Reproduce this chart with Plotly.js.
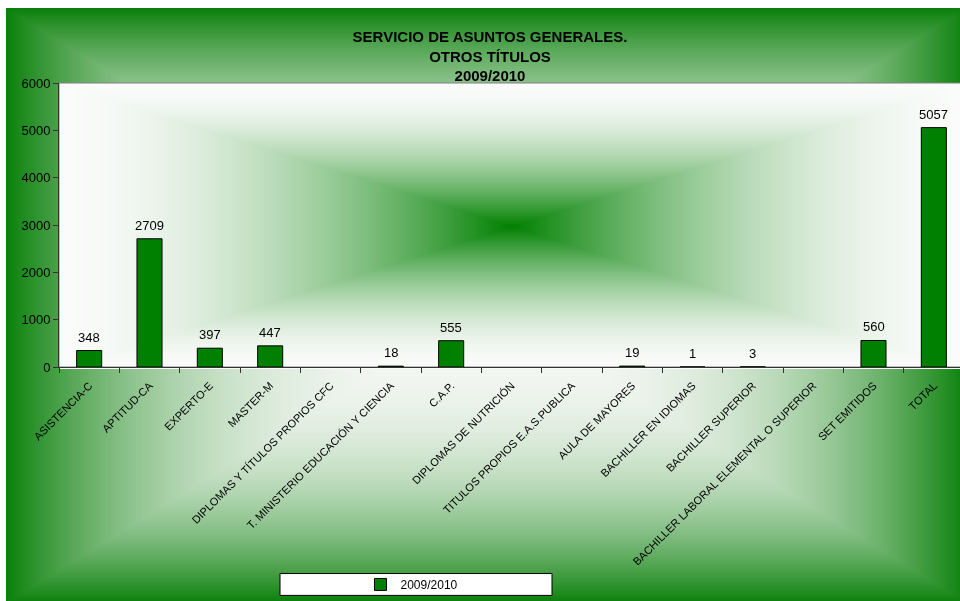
<!DOCTYPE html>
<html>
<head>
<meta charset="utf-8">
<script src="https://cdn.plot.ly/plotly-3.0.1.min.js"></script>
<style>
html,body{margin:0;padding:0;overflow:hidden;background:#fff;}
#wrap{position:relative;width:960px;height:601px;overflow:hidden;}
#bg{position:absolute;left:0;top:0;}
#chart{position:absolute;left:0;top:0;}
</style>
</head>
<body>
<div id="wrap">
<canvas id="bg" width="966" height="601"></canvas>
<div id="chart"></div>
</div>
<script>
// ---- data ----
const categories = [
  "ASISTENCIA-C", "APTITUD-CA", "EXPERTO-E", "MASTER-M",
  "DIPLOMAS Y TÍTULOS PROPIOS CFC", "T. MINISTERIO EDUCACIÓN Y CIENCIA",
  "C.A.P.", "DIPLOMAS DE NUTRICIÓN", "TITULOS PROPIOS E.A.S.PUBLICA",
  "AULA DE MAYORES", "BACHILLER EN IDIOMAS", "BACHILLER SUPERIOR",
  "BACHILLER LABORAL ELEMENTAL O SUPERIOR", "SET EMITIDOS", "TOTAL"
];
const values2009 = [348, 2709, 397, 447, null, 18, 555, null, null, 19, 1, 3, null, 560, 5057];
const seriesName = "2009/2010";
const yTicks = [0, 1000, 2000, 3000, 4000, 5000, 6000];

// ---- geometry ----
const W = 966, H = 601;
const M = {l: 59, r: 2, t: 83, b: 232};
const PX0 = M.l, PX1 = W - M.r, PY0 = M.t, PY1 = H - M.b;

// ---- background gradients ----
(function drawBg(){
  const c = document.getElementById('bg');
  const ctx = c.getContext('2d');
  const img = ctx.createImageData(W, H);
  const d = img.data;
  const ocx = 486, ocy = 305, ohx = 480, ohy = 297;
  const pcx = (PX0 + PX1) / 2, pcy = (PY0 + PY1) / 2, phx = (PX1 - PX0) / 2, phy = (PY1 - PY0) / 2;
  for (let y = 0; y < H; y++) {
    for (let x = 0; x < W; x++) {
      let r, g, b;
      if (x < 6 || y < 8) { r = 255; g = 255; b = 255; }
      else if (x >= PX0 && x < PX1 && y >= PY0 && y < PY1) {
        let f = Math.max(Math.abs(x - pcx) / phx, Math.abs(y - pcy) / phy);
        f = Math.min(1, f);
        const t = Math.pow(1 - f, 1.8);
        r = 250 * (1 - t) + 0 * t;
        g = 251 * (1 - t) + 128 * t;
        b = 250 * (1 - t) + 0 * t;
      } else {
        let f = Math.max(Math.abs(x - ocx) / ohx, Math.abs(y - ocy) / ohy);
        f = Math.min(1, f);
        const t = Math.pow(f, 2.7);
        r = 246 * (1 - t) + 10 * t;
        g = 248 * (1 - t) + 128 * t;
        b = 245 * (1 - t) + 10 * t;
      }
      const i = (y * W + x) * 4;
      d[i] = r; d[i + 1] = g; d[i + 2] = b; d[i + 3] = 255;
    }
  }
  ctx.putImageData(img, 0, 0);
})();

// ---- chart ----
const font = "Arial, 'Liberation Sans', sans-serif";
const trace = {
  type: 'bar',
  x: categories,
  y: values2009,
  name: seriesName,
  marker: {color: '#008000', line: {color: '#000000', width: 1}},
  hoverinfo: 'x+y'
};

const annotations = [];
categories.forEach((c, i) => {
  const v = values2009[i];
  if (v !== null) {
    annotations.push({
      x: c, y: v, xref: 'x', yref: 'y', text: String(v), showarrow: false,
      yanchor: 'bottom', yshift: 4, font: {family: font, size: 13, color: '#000'}
    });
  }
});

const pw = PX1 - PX0, ph = PY1 - PY0;
const layout = {
  width: W, height: H,
  margin: M,
  paper_bgcolor: 'rgba(0,0,0,0)',
  plot_bgcolor: 'rgba(0,0,0,0)',
  font: {family: font, color: '#000'},
  title: {
    text: 'SERVICIO DE ASUNTOS GENERALES.<br>OTROS TÍTULOS<br>2009/2010',
    font: {family: font, size: 15, weight: 'bold', color: '#000'},
    xref: 'container', x: 490 / W, xanchor: 'center',
    yref: 'container', y: 1 - 42 / H, yanchor: 'top'
  },
  bargap: 0.585,
  xaxis: {
    type: 'category', range: [-0.5, categories.length - 0.5],
    tickangle: -45, tickfont: {family: font, size: 11, color: '#000'},
    ticks: 'outside', ticklen: 5, tickcolor: '#333', tickson: 'boundaries',
    ticklabelstandoff: 7,
    showline: true, linecolor: '#333', linewidth: 1, showgrid: false,
    fixedrange: true
  },
  yaxis: {
    range: [0, 6000], tickvals: yTicks, ticktext: yTicks.map(String),
    tickfont: {family: font, size: 13, color: '#000'},
    ticks: 'outside', ticklen: 5, tickcolor: '#333',
    showline: true, linecolor: '#333', linewidth: 1, showgrid: false, zeroline: false,
    fixedrange: true
  },
  showlegend: true,
  legend: {
    orientation: 'h', x: (412 - PX0) / pw, xanchor: 'center',
    y: (PY1 - 588) / ph, yanchor: 'middle',
    bgcolor: 'rgba(0,0,0,0)', borderwidth: 0, itemwidth: 30,
    font: {family: font, size: 12, color: '#000'}
  },
  shapes: [
    {type: 'rect', xref: 'paper', yref: 'paper', x0: 0, x1: 1, y0: 0, y1: 1,
     line: {color: '#808080', width: 1}, fillcolor: 'rgba(0,0,0,0)', layer: 'below'},
    {type: 'rect', xref: 'paper', yref: 'paper',
     x0: (280 - PX0) / pw, x1: (552 - PX0) / pw,
     y0: (PY1 - 577) / ph, y1: (PY1 - 599) / ph,
     line: {color: '#000', width: 1}, fillcolor: '#ffffff', layer: 'below'}
  ],
  annotations: annotations
};

Plotly.newPlot('chart', [trace], layout, {displayModeBar: false, staticPlot: true});
</script>
</body>
</html>
